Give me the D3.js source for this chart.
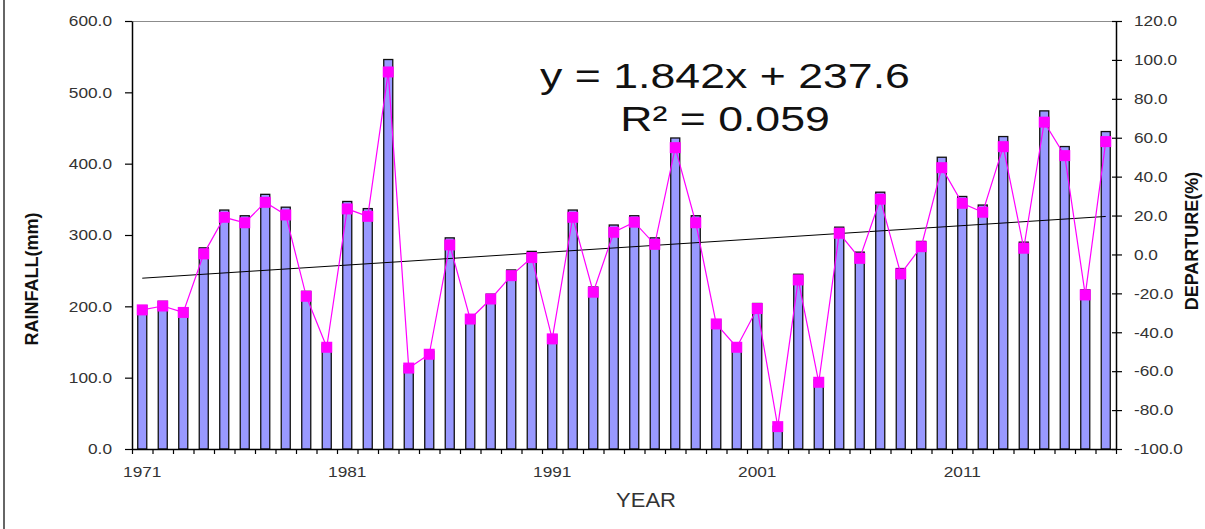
<!DOCTYPE html>
<html>
<head>
<meta charset="utf-8">
<script src="https://cdn.jsdelivr.net/npm/d3@7"></script>
<style>
  body { margin: 0; background: #fff; }
  svg { display: block; font-family: Arial, "Liberation Sans", sans-serif; }
</style>
</head>
<body>
<div id="chart"></div>
<script>
// annual rainfall and its departure from the mean
var years = d3.range(1971, 2019);
var rainfall = [201, 207, 198, 282, 335, 327, 357, 339, 221, 147,
                347, 337, 546, 117, 137, 296, 188, 217, 251, 277,
                160, 335, 227, 314, 327, 296, 436, 327, 181, 147,
                204, 32, 245, 97, 311, 276, 360, 253, 291, 409,
                354, 342, 438, 290, 474, 424, 223, 445];
var departure = [-28.5, -26.5, -29.8, 0.3, 19.1, 16.3, 26.8, 20.3, -21.5, -47.7,
                 23.4, 19.6, 93.8, -58.4, -51.3, 4.9, -33.2, -22.9, -10.9, -1.6,
                 -43.4, 19.1, -19.4, 11.4, 16.6, 5.2, 54.9, 16.3, -35.7, -47.7,
                 -27.8, -88.5, -13.1, -65.7, 10.9, -2.0, 28.4, -10.0, 4.0, 44.6,
                 26.3, 21.7, 55.4, 3.2, 68.0, 50.8, -20.8, 58.0];
var yearLabels = [1971, 1981, 1991, 2001, 2011];
var leftTicks = [0, 100, 200, 300, 400, 500, 600];
var rightTicks = [-100, -80, -60, -40, -20, 0, 20, 40, 60, 80, 100, 120];
var trend = {slope: 1.842, intercept: 237.6, r2: 0.059};

var w = 1205, h = 529;
var padL = 132, padR = 1116, padT = 21, padB = 449;
var stretch = 1.15;
var mk = 11; // marker size

var svg = d3.select("#chart").append("svg")
            .attr("width", w)
            .attr("height", h);

// border on the far left
svg.append("line")
   .attr("x1", 4).attr("x2", 4).attr("y1", 0).attr("y2", h)
   .attr("stroke", "#333").attr("stroke-width", 1.5);

var x = d3.scaleBand().domain(years)
          .range([padL, padR])
          .paddingInner(0.56).paddingOuter(0.28);
var xIdx = d3.scaleLinear().domain([0, years.length]).range([padL, padR]);
var yL = d3.scaleLinear().domain([0, 600]).range([padB, padT]);
var yR = d3.scaleLinear().domain([-100, 120]).range([padB, padT]);

var fmt = d => d.toFixed(1); // plain hyphen minus, as in the original

// top frame line
svg.append("line")
   .attr("x1", padL).attr("x2", padR).attr("y1", padT + 0.5).attr("y2", padT + 0.5)
   .attr("stroke", "#8c8c8c").attr("stroke-width", 1);

// bars
svg.append("g").selectAll("rect").data(years)
   .enter().append("rect")
   .attr("x", d => x(d))
   .attr("y", (d, i) => yL(rainfall[i]))
   .attr("width", x.bandwidth())
   .attr("height", (d, i) => padB - yL(rainfall[i]))
   .attr("fill", "#9999ff")
   .attr("stroke", "#111")
   .attr("stroke-width", 1.3);

// trend line  y = 1.842x + 237.6, x = 1..48
var cx = d => x(d) + x.bandwidth() / 2;
svg.append("line")
   .attr("x1", cx(years[0]))
   .attr("y1", yL(trend.slope * 1 + trend.intercept))
   .attr("x2", cx(years[years.length - 1]))
   .attr("y2", yL(trend.slope * years.length + trend.intercept))
   .attr("stroke", "#000").attr("stroke-width", 1);

// departure line + markers
var line = d3.line().x((d, i) => cx(years[i])).y(d => yR(d));
svg.append("path").datum(departure)
   .attr("d", line)
   .attr("fill", "none")
   .attr("stroke", "#ff00ff")
   .attr("stroke-width", 1.2);

svg.append("g").selectAll("rect").data(departure)
   .enter().append("rect")
   .attr("x", (d, i) => cx(years[i]) - mk / 2)
   .attr("y", d => yR(d) - mk / 2)
   .attr("width", mk).attr("height", mk)
   .attr("fill", "#ff00ff");

function stretchText(sel) {
    sel.selectAll("text").each(function() {
        var t = d3.select(this);
        var ax = +t.attr("x") || 0;
        t.attr("transform", "translate(" + ax + ",0) scale(" + stretch + ",1) translate(" + (-ax) + ",0)");
    });
}

function styleAxis(g) {
    g.attr("font-size", 15).attr("font-family", "Arial, 'Liberation Sans', sans-serif");
    g.select(".domain").attr("stroke", "#000").attr("stroke-width", 1.5);
    g.selectAll(".tick line").attr("stroke", "#000").attr("stroke-width", 1.2);
    g.selectAll("text").attr("fill", "#333");
}

// left axis
var gL = svg.append("g")
   .attr("transform", "translate(" + padL + ",0)")
   .call(d3.axisLeft(yL).tickValues(leftTicks).tickFormat(fmt)
           .tickSize(7).tickPadding(13).tickSizeOuter(0));
styleAxis(gL);
stretchText(gL);

// right axis, ticks cross the line
var gR = svg.append("g")
   .attr("transform", "translate(" + padR + ",0)")
   .call(d3.axisRight(yR).tickValues(rightTicks).tickFormat(fmt)
           .tickSize(6).tickPadding(12).tickSizeOuter(0));
gR.selectAll(".tick line").attr("x1", -4);
styleAxis(gR);
stretchText(gR);

// bottom axis: ticks at category boundaries
var gB = svg.append("g")
   .attr("transform", "translate(0," + padB + ")")
   .call(d3.axisBottom(xIdx).tickValues(d3.range(0, years.length + 1))
           .tickFormat("").tickSize(5).tickSizeOuter(0));
styleAxis(gB);

var gBL = svg.append("g")
   .attr("transform", "translate(0," + padB + ")")
   .call(d3.axisBottom(x).tickValues(yearLabels).tickSize(0).tickPadding(17));
gBL.select(".domain").remove();
styleAxis(gBL);
stretchText(gBL);

// axis titles
svg.append("text")
   .attr("text-anchor", "middle")
   .attr("transform", "translate(38,279)rotate(-90)")
   .attr("font-size", "18px").attr("font-weight", "bold").attr("fill", "#111")
   .text("RAINFALL(mm)");

svg.append("text")
   .attr("text-anchor", "middle")
   .attr("transform", "translate(1198,241)rotate(-90)")
   .attr("font-size", "18px").attr("font-weight", "bold").attr("fill", "#111")
   .text("DEPARTURE(%)");

svg.append("text")
   .attr("text-anchor", "middle")
   .attr("transform", "translate(646,507)scale(1.1,1)")
   .attr("font-size", "20px").attr("fill", "#333")
   .text("YEAR");

// trendline equation
svg.append("text")
   .attr("text-anchor", "middle")
   .attr("transform", "translate(725,88)scale(1.24,1)")
   .attr("font-size", "36px").attr("fill", "#111")
   .text("y = " + trend.slope + "x + " + trend.intercept);

svg.append("text")
   .attr("text-anchor", "middle")
   .attr("transform", "translate(725,131)scale(1.24,1)")
   .attr("font-size", "36px").attr("fill", "#111")
   .text("R\u00b2 = " + trend.r2.toFixed(3));
</script>
</body>
</html>
